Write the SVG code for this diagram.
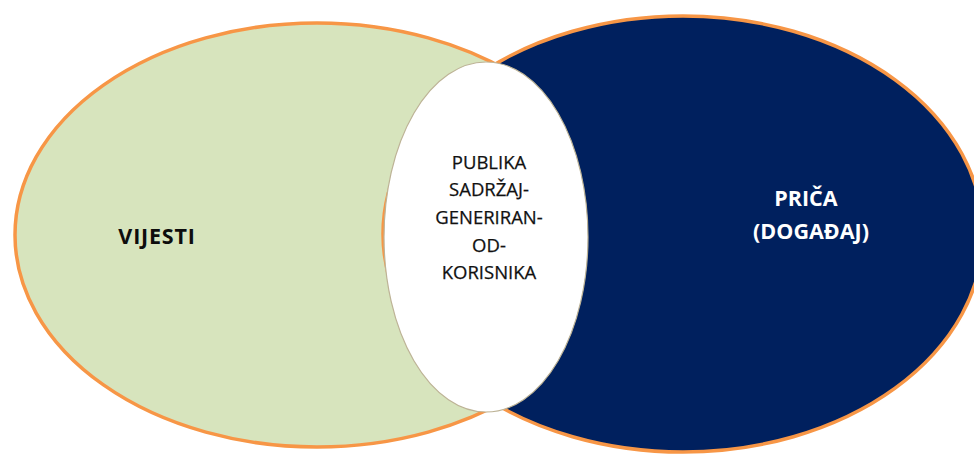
<svg xmlns="http://www.w3.org/2000/svg" width="974" height="454" viewBox="0 0 974 454">
<style>
.outer{stroke:#f79646;stroke-width:3.5}
.lbl{font-family:"Open Sans","Liberation Sans",sans-serif;text-anchor:middle}
.big{font-weight:bold;font-size:21.5px}
.mid{font-size:18.5px;fill:#111111;stroke:#111111;stroke-width:0.25}
</style>
<rect width="974" height="454" fill="#ffffff"/>
<g id="vijesti">
<ellipse class="outer" cx="317" cy="235" rx="302" ry="212" fill="#d7e4bd"/>
<text class="lbl big" x="157" y="244" fill="#0d0d0d" letter-spacing="0.8">VIJESTI</text>
</g>
<g id="prica">
<ellipse class="outer" cx="683" cy="234" rx="300" ry="218" fill="#00205e"/>
<text class="lbl big" x="806" y="206" fill="#ffffff">PRIČA</text>
<text class="lbl big" x="811" y="239" fill="#ffffff">(DOGAĐAJ)</text>
</g>
<g id="publika">
<ellipse cx="486" cy="237" rx="102" ry="175" fill="#ffffff" stroke="#bdb396" stroke-width="1.2"/>
<text class="lbl mid" x="489" y="169">PUBLIKA</text>
<text class="lbl mid" x="489" y="196">SADRŽAJ-</text>
<text class="lbl mid" x="489" y="224">GENERIRAN-</text>
<text class="lbl mid" x="489" y="252">OD-</text>
<text class="lbl mid" x="489" y="279">KORISNIKA</text>
</g>
<g id="connectors"/>
</svg>
